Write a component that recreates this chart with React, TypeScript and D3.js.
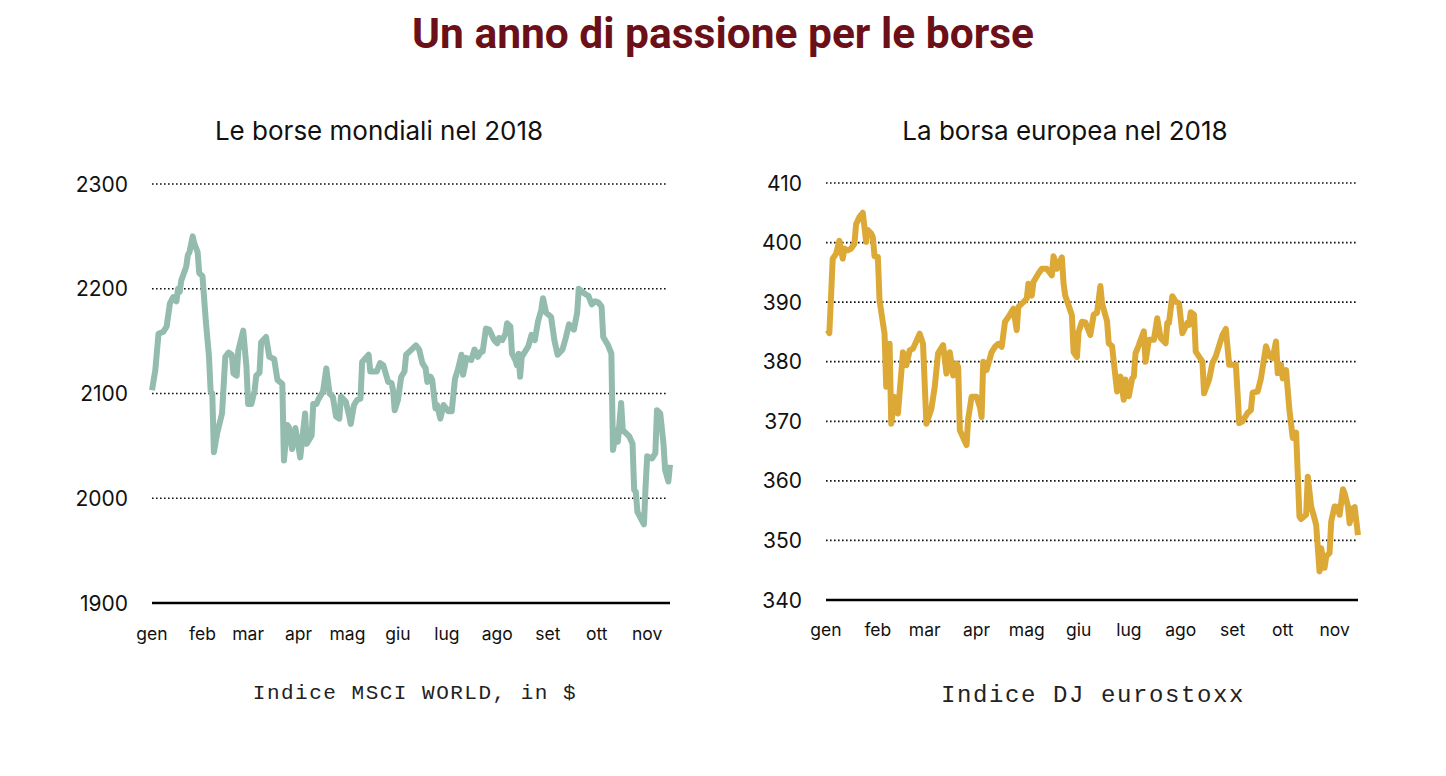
import React from "react";
import * as d3 from "d3";

const title = "Un anno di passione per le borse";
const monthLabels = ["gen", "feb", "mar", "apr", "mag", "giu", "lug", "ago", "set", "ott", "nov"];

const msciTicks = [1900, 2000, 2100, 2200, 2300];
const stoxxTicks = [340, 350, 360, 370, 380, 390, 400, 410];

// day offsets from 1 Jan 2018
const msciDays = [0,2,4,7,9,11,13,15,16,17,18,21,22,23,25,26,28,29,31,33,35,36,37,38,40,43,45,47,49,50,52,53,56,58,59,61,63,64,66,67,70,72,75,77,80,81,83,84,86,88,91,94,95,98,99,101,102,105,107,109,111,113,115,116,119,121,122,124,126,128,129,133,134,136,138,140,142,145,147,148,149,151,153,155,156,158,162,164,166,168,169,171,172,174,175,177,179,182,184,186,188,190,191,193,196,198,200,202,203,205,207,210,212,213,215,217,218,220,221,223,224,225,226,227,231,233,235,237,239,240,242,245,247,249,252,254,256,259,261,262,265,268,270,272,274,276,277,280,282,283,285,286,288,289,293,295,296,297,298,300,302,303,304,307,309,310,312,314,315,317,318];
const msciValues = [2103,2122,2157,2159,2164,2186,2192,2188,2200,2197,2208,2221,2232,2235,2250,2243,2235,2215,2212,2170,2135,2102,2100,2044,2062,2081,2135,2139,2137,2119,2117,2141,2160,2125,2090,2090,2103,2117,2120,2149,2154,2135,2133,2113,2109,2036,2070,2068,2047,2067,2039,2081,2052,2060,2090,2090,2094,2102,2124,2100,2097,2078,2076,2097,2092,2079,2071,2089,2094,2095,2130,2137,2121,2121,2121,2129,2127,2111,2110,2103,2084,2094,2116,2121,2137,2140,2146,2142,2129,2124,2111,2116,2113,2086,2089,2076,2089,2083,2083,2114,2124,2137,2118,2134,2132,2142,2135,2140,2140,2162,2161,2151,2148,2153,2151,2157,2167,2164,2138,2132,2127,2138,2116,2135,2145,2156,2151,2169,2180,2191,2177,2173,2151,2137,2142,2153,2166,2161,2177,2200,2196,2193,2185,2188,2187,2183,2154,2146,2138,2046,2065,2054,2091,2065,2059,2052,2008,2006,1987,1981,1975,2011,2040,2038,2043,2084,2081,2052,2027,2016,2032];

const stoxxDays = [1,2,3,4,6,8,10,11,13,15,17,18,20,22,24,25,27,28,29,31,32,35,36,38,39,41,43,46,48,50,52,56,58,60,63,65,67,70,72,74,76,78,79,80,84,85,87,90,92,93,94,96,99,101,103,105,107,109,112,114,115,118,120,121,123,124,127,129,132,135,136,138,139,141,142,143,147,148,150,151,153,155,158,160,162,164,165,168,169,171,173,174,176,178,179,181,183,184,185,187,190,191,193,196,198,200,203,204,205,207,209,211,213,216,217,218,220,221,225,226,229,231,233,237,239,241,243,245,246,247,249,252,254,255,258,260,263,265,267,269,270,272,273,275,277,279,281,283,284,287,288,290,292,293,295,296,298,299,301,302,304,306,307,309,310,312,313,315,316,318];
const stoxxValues = [385.3,384.8,390.9,397.3,398.1,400.3,397.3,399,398.7,399,399.8,403.1,404.3,405,400.1,402.1,401.5,400.9,397.7,397.6,390.3,384.7,375.8,383,369.6,374.1,371.3,381.6,379.4,381.9,382.2,384.7,383,369.6,372.1,375.8,381.4,382.8,378,381.6,377.7,379.7,379.1,368.5,366,370.4,374.1,374.1,372.4,370.7,380,378.6,381.6,382.5,383,382.5,386.7,387.5,388.9,385.3,389.2,390,390.6,393.1,391.1,393.4,394.8,395.6,395.6,394.5,397.7,395.6,396.5,397.5,393.1,391.1,387.8,381.6,380.8,385,386.7,386.6,384.5,387.9,388.2,392.7,389.8,386.8,383.1,382.6,377.5,375,377.5,373.6,377,374.2,377.2,377.5,381.4,382.8,385.1,380,383.7,383.7,387.3,384,383.1,386.5,386.5,391,390.1,389.8,384.8,386.5,386.2,388.3,387.9,381.7,380,374.7,377,379.8,380.9,384.5,385.5,379.5,379.5,379.5,374.7,369.7,370,371.4,371.9,374.8,375,377.2,382.6,380.9,380.6,383.4,378.1,379.5,377.2,378.6,371.9,367.2,368.1,354,353.6,354.3,360.7,355.7,353.7,352.6,344.8,348.7,345.4,347.3,347.9,353.2,355.7,355.6,354.3,358.6,357.9,355.7,352.9,355.4,355.6,350.9];

const start = new Date(2018, 0, 1);
const end = new Date(2018, 10, 15);
const toDate = (d: number) => d3.timeDay.offset(start, d);

const SANS = "Inter, 'Noto Sans', sans-serif";
const MONO = "'Liberation Mono', 'DejaVu Sans Mono', monospace";

type PanelProps = {
  days: number[];
  values: number[];
  ticks: number[];
  x0: number;
  x1: number;
  yTop: number;
  yBottom: number;
  color: string;
  subtitle: string;
  subtitleX: number;
  caption: string;
  captionSize: number;
  captionSpacing: number;
  captionX: number;
  captionY: number;
  monthY: number;
};

function Panel(p: PanelProps) {
  const x = d3.scaleTime().domain([start, end]).range([p.x0, p.x1]);
  const y = d3.scaleLinear().domain([p.ticks[0], p.ticks[p.ticks.length - 1]]).range([p.yBottom, p.yTop]);
  const pts = p.days.map((d, i) => [toDate(d), p.values[i]] as [Date, number]);
  const line = d3.line<[Date, number]>().x((d) => x(d[0])).y((d) => y(d[1]));
  const months = d3.timeMonth.range(start, d3.timeMonth.offset(start, monthLabels.length));
  const gridEnd = p.x1 - 2;
  return (
    <g>
      <text x={p.subtitleX} y={140} textAnchor="middle" fontFamily={SANS} fontSize={26} fill="#111">
        {p.subtitle}
      </text>
      {p.ticks.map((t, i) => (
        <g key={t}>
          {i > 0 && (
            <line x1={p.x0} x2={gridEnd} y1={y(t)} y2={y(t)} stroke="#111" strokeWidth={1.7} strokeDasharray="1.6 2.4" />
          )}
          <text x={p.x0 - 24} y={y(t) + 7.5} textAnchor="end" fontFamily={SANS} fontSize={21} fill="#111">
            {t}
          </text>
        </g>
      ))}
      <line x1={p.x0} x2={p.x1} y1={y(p.ticks[0])} y2={y(p.ticks[0])} stroke="#000" strokeWidth={2.6} />
      {months.map((m, i) => (
        <text key={i} x={x(m)} y={p.monthY} textAnchor="middle" fontFamily={SANS} fontSize={17.5} fill="#111">
          {monthLabels[i]}
        </text>
      ))}
      <path d={line(pts) || ""} fill="none" stroke={p.color} strokeWidth={6} strokeLinejoin="round" strokeLinecap="butt" />
      <text
        x={p.captionX}
        y={p.captionY}
        textAnchor="middle"
        fontFamily={MONO}
        fontSize={p.captionSize}
        letterSpacing={p.captionSpacing}
        fill="#222"
      >
        {p.caption}
      </text>
    </g>
  );
}

export default function App() {
  return (
    <svg
      width={1446}
      height={776}
      viewBox="0 0 1446 776"
      style={{ position: "absolute", left: 0, top: 0, background: "#fff" }}
    >
      <text x={723} y={48} textAnchor="middle" fontFamily="Roboto, sans-serif" fontWeight={700} fontSize={42.5} fill="#6b1019">
        {title}
      </text>
      <Panel
        days={msciDays}
        values={msciValues}
        ticks={msciTicks}
        x0={152}
        x1={670}
        yTop={184}
        yBottom={603}
        color="#93bcae"
        subtitle="Le borse mondiali nel 2018"
        subtitleX={379}
        caption="Indice MSCI WORLD, in $"
        captionSize={21}
        captionSpacing={1.5}
        captionX={415}
        captionY={699}
        monthY={640}
      />
      <Panel
        days={stoxxDays}
        values={stoxxValues}
        ticks={stoxxTicks}
        x0={826}
        x1={1358}
        yTop={183}
        yBottom={600}
        color="#dca937"
        subtitle="La borsa europea nel 2018"
        subtitleX={1065}
        caption="Indice DJ eurostoxx"
        captionSize={24}
        captionSpacing={1.6}
        captionX={1093}
        captionY={702}
        monthY={636}
      />
    </svg>
  );
}
